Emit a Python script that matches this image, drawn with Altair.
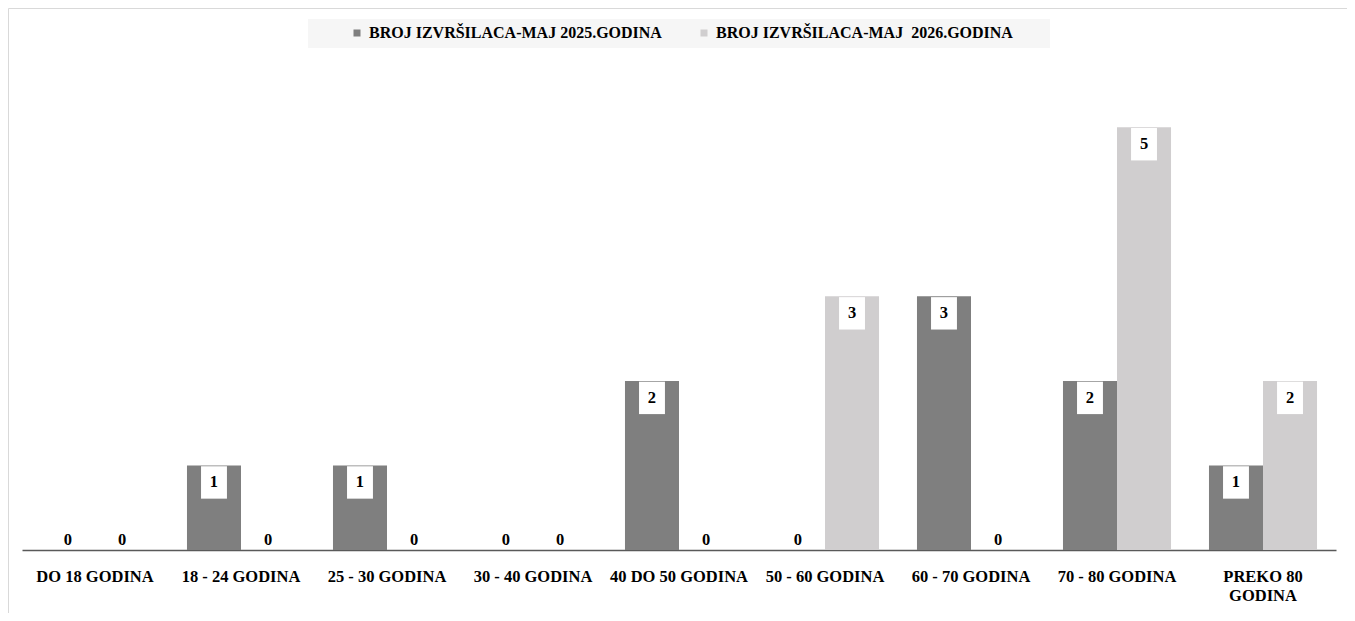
import altair as alt
import pandas as pd

categories = ["DO 18 GODINA", "18 - 24 GODINA", "25 - 30 GODINA", "30 - 40 GODINA",
              "40 DO 50 GODINA", "50 - 60 GODINA", "60 - 70 GODINA", "70 - 80 GODINA",
              "PREKO 80 GODINA"]
series_names = ["BROJ IZVRŠILACA-MAJ 2025.GODINA", "BROJ IZVRŠILACA-MAJ\u00a0 2026.GODINA"]
values_2025 = [0, 1, 1, 0, 2, 0, 3, 2, 1]
values_2026 = [0, 0, 0, 0, 0, 3, 0, 5, 2]
colors = ["#7f7f7f", "#d0cecf"]

rows = []
for c, a, b in zip(categories, values_2025, values_2026):
    rows.append({"cat": c, "series": series_names[0], "value": a})
    rows.append({"cat": c, "series": series_names[1], "value": b})
df = pd.DataFrame(rows)

FONT = "Liberation Serif"

x = alt.X("cat:N", sort=categories,
          scale=alt.Scale(range=[14, 1328], paddingInner=0.26, paddingOuter=0.13),
          axis=alt.Axis(title=None, orient="bottom", offset=-63, domainColor="#595959",
                        domainWidth=1.5, ticks=False, labelFont=FONT, labelFontSize=16.5,
                        labelFontWeight="bold", labelColor="black", labelPadding=18,
                        labelAngle=0, labelLineHeight=19, grid=False, labelLimit=300,
                        labelExpr="datum.label == 'PREKO 80 GODINA' ? ['PREKO 80', 'GODINA'] : datum.label"))
xo = alt.XOffset("series:N", sort=series_names, scale=alt.Scale(paddingInner=0, paddingOuter=0))
y = alt.Y("value:Q", scale=alt.Scale(domain=[-0.745, 6.41], nice=False, zero=False), axis=None)

base = alt.Chart(df).encode(x=x, xOffset=xo, y=y)

legend_bg = alt.Chart(pd.DataFrame({"a": [0]})).mark_rect(fill="#f6f6f6").encode(
    x=alt.value(300), x2=alt.value(1042), y=alt.value(11), y2=alt.value(40))

bars = base.mark_bar(strokeWidth=0).encode(
    y2=alt.datum(0),
    color=alt.Color("series:N", sort=series_names,
                    scale=alt.Scale(domain=series_names, range=colors),
                    legend=alt.Legend(title=None, orient="none", legendX=341, legendY=17,
                                      direction="horizontal", symbolType="square",
                                      symbolSize=49, symbolStrokeWidth=0, labelFont=FONT,
                                      labelFontSize=16, labelFontWeight="bold",
                                      labelColor="black", columnPadding=34,
                                      labelOffset=4, padding=0, labelLimit=500)))

nonzero = base.transform_filter("datum.value > 0")
boxes = nonzero.mark_point(shape="M-0.8,-1L0.8,-1L0.8,1L-0.8,1Z", filled=True, fill="white",
                           opacity=1, size=1050, yOffset=17, strokeWidth=0)
labels = nonzero.mark_text(font=FONT, fontSize=16.5, fontWeight="bold", color="black",
                           dy=17, baseline="middle").encode(text="value:Q")
zeros = base.transform_filter("datum.value == 0").mark_text(
    font=FONT, fontSize=16.5, fontWeight="bold", color="black", dy=-10,
    baseline="middle").encode(text="value:Q")

chart = alt.layer(legend_bg, bars, boxes, labels, zeros).properties(
    width=1339, height=605, padding=0
).configure_view(stroke="#d9d9d9", strokeWidth=1)

chart.save("out.html", embed_options={"renderer": "svg", "actions": False})
